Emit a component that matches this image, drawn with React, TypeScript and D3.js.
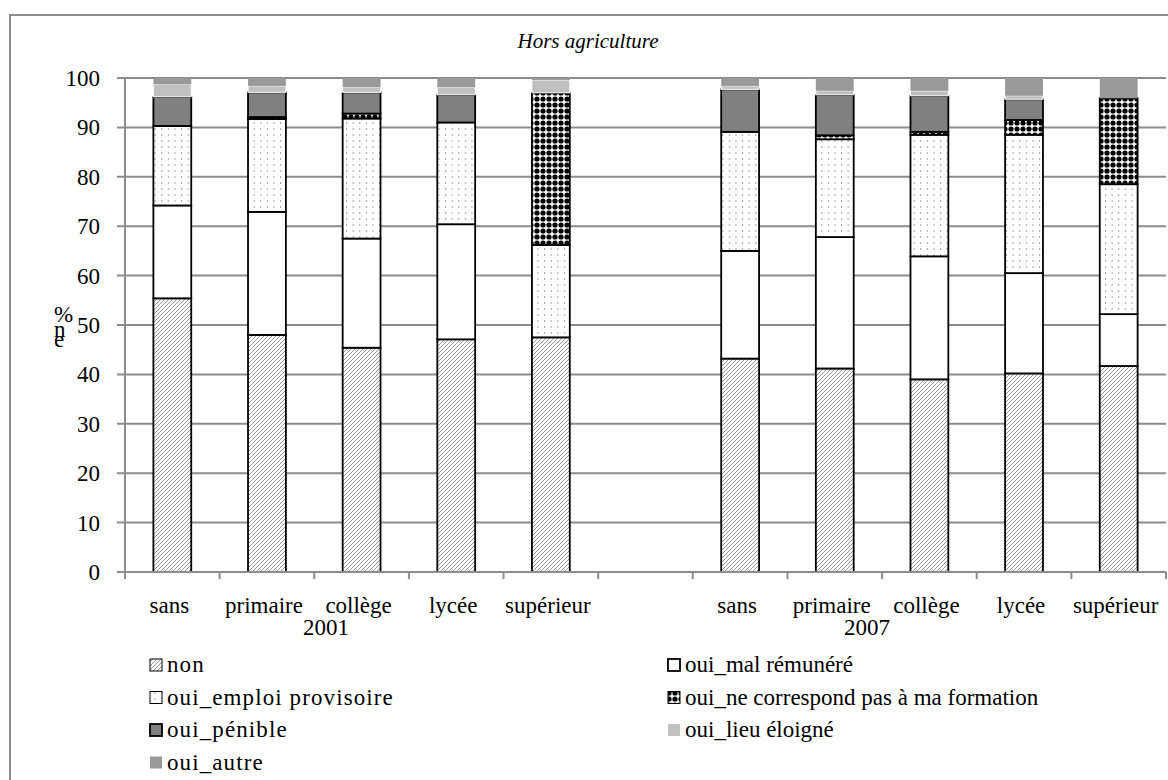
import React from "react";
import * as d3 from "d3";

const categories = ["sans", "primaire", "collège", "lycée", "supérieur"];
const years = ["2001", "2007"];
const seriesNames = [
  "non",
  "oui_mal rémunéré",
  "oui_emploi provisoire",
  "oui_ne correspond pas à ma formation",
  "oui_pénible",
  "oui_lieu éloigné",
  "oui_autre",
];
// 2001 (sans..supérieur) then 2007 (sans..supérieur)
const nonValues = [55.4, 48.0, 45.4, 47.1, 47.5, 43.2, 41.2, 39.0, 40.2, 41.7];
const malValues = [18.8, 24.9, 22.1, 23.3, 0, 21.8, 26.6, 24.9, 20.3, 10.5];
const provisoireValues = [16.1, 18.8, 24.3, 20.6, 18.7, 24.1, 19.8, 24.6, 28.0, 26.3];
const formationValues = [0, 0.4, 1.0, 0, 30.8, 0, 0.8, 0.6, 3.0, 17.4];
const penibleValues = [5.9, 5.0, 4.3, 5.6, 0, 8.6, 8.2, 7.3, 4.2, 0];
const lieuValues = [2.5, 1.3, 1.0, 1.5, 2.6, 0.7, 0.8, 1.0, 0.7, 0];
const autreValues = [1.3, 1.6, 1.9, 1.9, 0.4, 1.6, 2.6, 2.6, 3.6, 4.1];
const yTicks = [0, 10, 20, 30, 40, 50, 60, 70, 80, 90, 100];

const seriesValues = [nonValues, malValues, provisoireValues, formationValues, penibleValues, lieuValues, autreValues];

const fills = ["url(#hatch)", "#ffffff", "url(#dots)", "url(#checker)", "#808080", "#c0c0c0", "#999999"];
const strokes = ["#000", "#000", "#000", "#000", "#000", "#fff", "none"];
const strokeW = [1.8, 1.8, 1.8, 1.8, 1.8, 1, 0];

const W = 1168;
const H = 780;
const FONT = '"Liberation Serif", "DejaVu Serif", serif';
const GRID = "#8c8c8c";

export default function App() {
  // slots: 5 categories for 2001, one empty slot, 5 for 2007
  const slots = [
    ...categories.map((c) => `2001|${c}`),
    "gap",
    ...categories.map((c) => `2007|${c}`),
  ];
  const rows = years.flatMap((yr, yi) =>
    categories.map((c, ci) => {
      const row: any = { key: `${yr}|${c}`, cat: c };
      seriesNames.forEach((s, si) => (row[s] = seriesValues[si][yi * 5 + ci]));
      return row;
    })
  );

  const x = d3.scaleBand().domain(slots).range([125, 1166]).padding(0);
  const y = d3.scaleLinear().domain([0, 100]).range([572, 78]);
  const stacked = d3.stack().keys(seriesNames)(rows);
  const step = x.step();
  const barW = step * 0.4;

  const boundaries = slots.map((s) => x(s)!).concat([x.range()[1]]);
  const yearX = [x("2001|collège")! + step * 0.125, x("2007|collège")! - step * 0.16];

  const legendRows = [672, 704.5, 737, 769.5];
  const legendItems = seriesNames.map((s, i) => ({
    name: s,
    i,
    col: i % 2,
    row: Math.floor(i / 2),
  }));

  return (
    <svg width={W} height={H} style={{ position: "absolute", left: 0, top: 0, background: "#fff", fontFamily: FONT }}>
      <defs>
        <pattern id="hatch" width={4} height={4} patternUnits="userSpaceOnUse">
          <rect width={4} height={4} fill="#fff" />
          <path d="M-1,1 l2,-2 M0,4 l4,-4 M3,5 l2,-2" stroke="#8a8a8a" strokeWidth={0.9} />
        </pattern>
        <pattern id="dots" width={6.6} height={6} patternUnits="userSpaceOnUse">
          <rect width={6.6} height={6} fill="#fff" />
          <rect x={3} y={2} width={0.9} height={2} fill="#999" />
        </pattern>
        <pattern id="checker" width={6} height={6} patternUnits="userSpaceOnUse">
          <rect width={6} height={6} fill="#fff" />
          <circle cx={3} cy={3} r={2.6} fill="#000" />
        </pattern>
      </defs>

      {/* outer frame */}
      <path d={`M10,${H + 5} V15 H${W + 5}`} fill="none" stroke={GRID} strokeWidth={2} />

      <text x={588} y={48} textAnchor="middle" fontStyle="italic" fontSize={21} fill="#000">
        Hors agriculture
      </text>

      {/* gridlines + y ticks */}
      {yTicks.map((t) => (
        <g key={t}>
          <line x1={117} x2={1166} y1={y(t)} y2={y(t)} stroke={GRID} strokeWidth={2} />
          <text x={100} y={y(t) + 8} textAnchor="end" fontSize={23} fill="#000">
            {t}
          </text>
        </g>
      ))}
      <line x1={125} x2={125} y1={y(100)} y2={y(0)} stroke={GRID} strokeWidth={2} />

      {/* bars */}
      {stacked.map((layer, si) => (
        <g key={layer.key}>
          {layer.map((d: any) => {
            const v = d[1] - d[0];
            if (v <= 0) return null;
            return (
              <rect
                key={d.data.key}
                x={x(d.data.key)! + (step - barW) / 2}
                y={y(d[1])}
                width={barW}
                height={y(d[0]) - y(d[1])}
                fill={fills[si]}
                stroke={strokes[si]}
                strokeWidth={strokeW[si]}
              />
            );
          })}
        </g>
      ))}

      {/* x axis */}
      <line x1={117} x2={1166} y1={y(0)} y2={y(0)} stroke={GRID} strokeWidth={2} />
      {boundaries.map((b, i) => (
        <line key={i} x1={b} x2={b} y1={y(0)} y2={y(0) + 7} stroke={GRID} strokeWidth={2} />
      ))}
      {rows.map((r) => (
        <text key={r.key} x={x(r.key)! + step / 2 - 3} y={613} textAnchor="middle" fontSize={23} fill="#000">
          {r.cat}
        </text>
      ))}
      {years.map((yr, i) => (
        <text key={yr} x={yearX[i]} y={635} textAnchor="middle" fontSize={23} fill="#000">
          {yr}
        </text>
      ))}

      {/* y title (stacked glyphs as in the source) */}
      <text x={54} y={322} fontSize={23} fill="#000">
        %
        <tspan x={54} dy={15}>n</tspan>
        <tspan x={54} dy={10}>e</tspan>
      </text>

      {/* legend */}
      {legendItems.map((it) => {
        const sx = it.col === 0 ? 150 : 668;
        const by = legendRows[it.row];
        return (
          <g key={it.name}>
            <rect
              x={sx}
              y={by - 13}
              width={12}
              height={12}
              fill={fills[it.i]}
              stroke={it.i < 5 ? "#000" : "none"}
              strokeWidth={it.i === 1 || it.i === 4 ? 1.8 : 1}
            />
            <text
              x={sx + 17}
              y={by}
              fontSize={23}
              fill="#000"
              letterSpacing={it.col === 0 ? 1.1 : 0}
            >
              {it.name}
            </text>
          </g>
        );
      })}
    </svg>
  );
}
